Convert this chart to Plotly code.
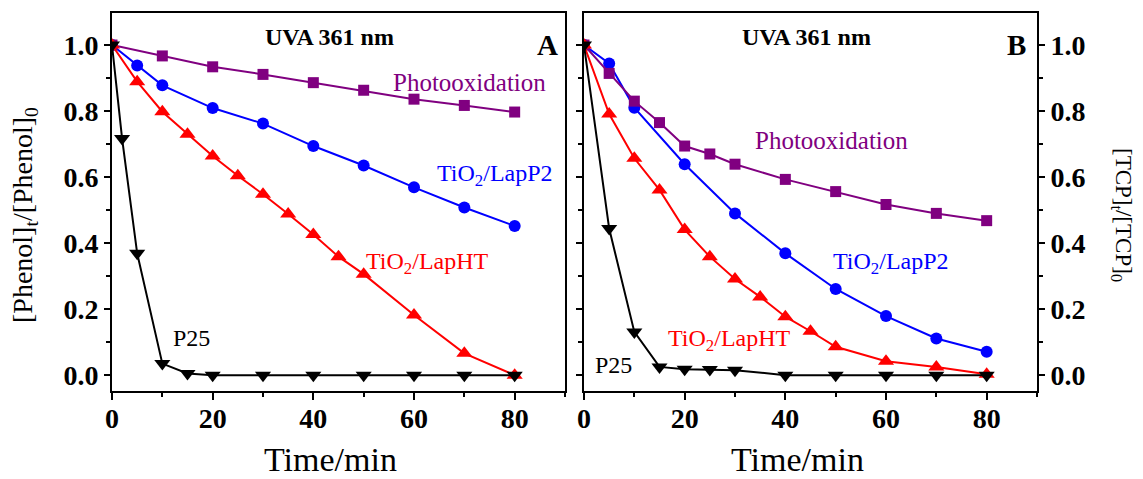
import plotly.graph_objects as go

# ---------------- data ----------------
# Panel A: phenol
a_photo_t = [0, 10, 20, 30, 40, 50, 60, 70, 80]
a_photo_c = [1.0, 0.967, 0.934, 0.911, 0.886, 0.863, 0.836, 0.817, 0.797]

a_p2_t = [0, 5, 10, 20, 30, 40, 50, 60, 70, 80]
a_p2_c = [1.0, 0.938, 0.878, 0.809, 0.762, 0.694, 0.635, 0.569, 0.508, 0.452]

a_ht_t = [0, 5, 10, 15, 20, 25, 30, 35, 40, 45, 50, 60, 70, 80]
a_ht_c = [1.0, 0.889, 0.798, 0.730, 0.664, 0.604, 0.548, 0.488, 0.426, 0.359, 0.306, 0.182, 0.066, 0.0]

a_p25_t = [0, 2, 5, 10, 15, 20, 30, 40, 50, 60, 70, 80]
a_p25_c = [1.0, 0.717, 0.369, 0.035, 0.005, 0.0, 0.0, 0.0, 0.0, 0.0, 0.0, 0.0]

# Panel B: TCP
b_photo_t = [0, 5, 10, 15, 20, 25, 30, 40, 50, 60, 70, 80]
b_photo_c = [1.0, 0.914, 0.830, 0.765, 0.694, 0.670, 0.639, 0.593, 0.556, 0.517, 0.490, 0.468]

b_p2_t = [0, 5, 10, 20, 30, 40, 50, 60, 70, 80]
b_p2_c = [1.0, 0.944, 0.810, 0.639, 0.490, 0.369, 0.261, 0.179, 0.111, 0.071]

b_ht_t = [0, 5, 10, 15, 20, 25, 30, 35, 40, 45, 50, 60, 70, 80]
b_ht_c = [1.0, 0.791, 0.657, 0.561, 0.441, 0.359, 0.291, 0.237, 0.177, 0.133, 0.086, 0.042, 0.025, 0.003]

b_p25_t = [0, 5, 10, 15, 20, 25, 30, 40, 50, 60, 70, 80]
b_p25_c = [1.0, 0.444, 0.131, 0.025, 0.018, 0.017, 0.015, 0.0, 0.0, 0.0, 0.0, 0.0]

x_ticks = [0, 20, 40, 60, 80]
y_ticks = [0.0, 0.2, 0.4, 0.6, 0.8, 1.0]
y_ticktext = ["0.0", "0.2", "0.4", "0.6", "0.8", "1.0"]

PURPLE = "#800080"
BLUE = "#0000FF"
RED = "#FF0000"
BLACK = "#000000"
FONT = "Liberation Serif"

W, H = 1143, 479
ML, MR, MT, MB = 0, 0, 13, 88


def px_x(px):
    return px / W


def px_y(py):
    return (H - MB - py) / (H - MT - MB)


fig = go.Figure()


def add_series(t, c, color, symbol, size, xa, ya):
    fig.add_trace(go.Scatter(
        x=t, y=c, mode="lines+markers", xaxis=xa, yaxis=ya,
        line=dict(color=color, width=2),
        marker=dict(symbol=symbol, size=size, color=color, line=dict(width=0)),
        showlegend=False, hoverinfo="skip"))


for xa, ya, series in [
    ("x", "y", [(a_p2_t, a_p2_c, BLUE, "circle", 12),
                (a_photo_t, a_photo_c, PURPLE, "square", 11),
                (a_ht_t, a_ht_c, RED, "triangle-up", 14),
                (a_p25_t, a_p25_c, BLACK, "triangle-down", 14)]),
    ("x2", "y2", [(b_p2_t, b_p2_c, BLUE, "circle", 12),
                  (b_photo_t, b_photo_c, PURPLE, "square", 11),
                  (b_ht_t, b_ht_c, RED, "triangle-up", 14),
                  (b_p25_t, b_p25_c, BLACK, "triangle-down", 14)]),
]:
    for t, c, col, sym, sz in series:
        add_series(t, c, col, sym, sz, xa, ya)

tickfont = dict(family=FONT, size=28, color="black", weight="bold")

common_x = dict(range=[0, 90], tickmode="array", tickvals=x_ticks,
                ticks="outside", ticklen=7, tickwidth=2, tickcolor="black",
                minor=dict(dtick=10, tick0=0, ticks="outside", ticklen=4, tickwidth=2, tickcolor="black"),
                showline=True, linewidth=2, linecolor="black", mirror=True,
                showgrid=False, zeroline=False, tickfont=tickfont, automargin=False,
                ticklabelstandoff=-6)
common_y = dict(range=[-0.048, 1.097], tickmode="array", tickvals=y_ticks, ticktext=y_ticktext,
                ticks="outside", ticklen=6, tickwidth=2, tickcolor="black",
                minor=dict(dtick=0.1, tick0=0, ticks="outside", ticklen=4, tickwidth=2, tickcolor="black"),
                showline=True, linewidth=2, linecolor="black",
                showgrid=False, zeroline=False, tickfont=tickfont, domain=[0, 1], automargin=False)
top_x = dict(range=[0, 90], tickmode="array", tickvals=x_ticks, ticks="inside", ticklen=7,
             tickwidth=2, tickcolor="black", showticklabels=False, showline=False,
             showgrid=False, zeroline=False, side="top")

fig.update_layout(
    width=W, height=H,
    margin=dict(l=ML, r=MR, t=MT, b=MB, autoexpand=False),
    paper_bgcolor="white", plot_bgcolor="white",
    font=dict(family=FONT, color="black"),
    xaxis=dict(domain=[px_x(112), px_x(565)], anchor="y", **common_x),
    yaxis=dict(anchor="x", side="left", mirror=True, **common_y),
    xaxis2=dict(domain=[px_x(584), px_x(1037)], anchor="y2", **common_x),
    yaxis2=dict(anchor="x2", side="right", mirror="ticks", **common_y),
    xaxis3=dict(overlaying="x", anchor="y", **top_x),
    xaxis4=dict(overlaying="x2", anchor="y2", **top_x),
)

ann = []


def label(text, x, y, color, size, xref, yref, bold=False, angle=0):
    ann.append(dict(text=text, x=x, y=y, xref=xref, yref=yref, showarrow=False,
                    xanchor="center", yanchor="middle", textangle=angle,
                    font=dict(family=FONT, size=size, color=color,
                              weight="bold" if bold else "normal")))


# Panel A labels
label("UVA 361 nm", 43.2, 1.024, BLACK, 24, "x", "y", bold=True)
label("A", 86.6, 1.0, BLACK, 29, "x", "y", bold=True)
label("Photooxidation", 71.0, 0.885, PURPLE, 25, "x", "y")
label("TiO<sub>2</sub>/LapP2", 76.0, 0.606, BLUE, 24, "x", "y")
label("TiO<sub>2</sub>/LapHT", 62.7, 0.339, RED, 24, "x", "y")
label("P25", 15.7, 0.112, BLACK, 24, "x", "y")

# Panel B labels
label("UVA 361 nm", 44.2, 1.024, BLACK, 24, "x2", "y2", bold=True)
label("B", 85.9, 1.0, BLACK, 29, "x2", "y2", bold=True)
label("Photooxidation", 49.2, 0.712, PURPLE, 25, "x2", "y2")
label("TiO<sub>2</sub>/LapP2", 61.0, 0.339, BLUE, 24, "x2", "y2")
label("TiO<sub>2</sub>/LapHT", 29.0, 0.106, RED, 24, "x2", "y2")
label("P25", 5.9, 0.03, BLACK, 24, "x2", "y2")

# Axis titles
label("Time/min", px_x(330), px_y(459), BLACK, 34, "paper", "paper")
label("Time/min", px_x(797), px_y(459), BLACK, 34, "paper", "paper")
label("[Phenol]<sub>t</sub>/[Phenol]<sub>0</sub>", px_x(24), px_y(215), BLACK, 28, "paper", "paper", angle=-90)
label("[TCP]<sub>t</sub>/[TCP]<sub>0</sub>", px_x(1122), px_y(215), BLACK, 23, "paper", "paper", angle=90)

fig.update_layout(annotations=ann)

fig.write_html("out.html")
